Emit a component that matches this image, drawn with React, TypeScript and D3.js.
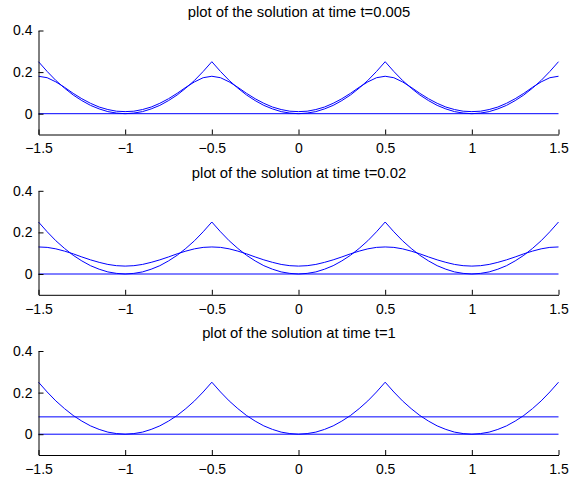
import React, { useEffect, useRef } from "react";
import * as d3 from "d3";

// sample positions along x
const xs = [
  -1.5, -1.45, -1.4, -1.35, -1.3, -1.25, -1.2, -1.15, -1.1, -1.05,
  -1.0, -0.95, -0.9, -0.85, -0.8, -0.75, -0.7, -0.65, -0.6, -0.55,
  -0.5, -0.45, -0.4, -0.35, -0.3, -0.25, -0.2, -0.15, -0.1, -0.05,
  0.0, 0.05, 0.1, 0.15, 0.2, 0.25, 0.3, 0.35, 0.4, 0.45,
  0.5, 0.55, 0.6, 0.65, 0.7, 0.75, 0.8, 0.85, 0.9, 0.95,
  1.0, 1.05, 1.1, 1.15, 1.2, 1.25, 1.3, 1.35, 1.4, 1.45,
  1.5,
];

// initial condition (drawn in every panel)
const initial = [
  0.25, 0.203, 0.16, 0.123, 0.09, 0.063, 0.04, 0.023, 0.01, 0.003,
  0, 0.003, 0.01, 0.023, 0.04, 0.063, 0.09, 0.123, 0.16, 0.203,
  0.25, 0.203, 0.16, 0.123, 0.09, 0.063, 0.04, 0.023, 0.01, 0.003,
  0, 0.003, 0.01, 0.023, 0.04, 0.063, 0.09, 0.123, 0.16, 0.203,
  0.25, 0.203, 0.16, 0.123, 0.09, 0.063, 0.04, 0.023, 0.01, 0.003,
  0, 0.003, 0.01, 0.023, 0.04, 0.063, 0.09, 0.123, 0.16, 0.203,
  0.25,
];

const solT005 = [
  0.18, 0.173, 0.153, 0.127, 0.098, 0.072, 0.05, 0.032, 0.02, 0.012,
  0.01, 0.012, 0.02, 0.032, 0.05, 0.072, 0.098, 0.127, 0.153, 0.173,
  0.18, 0.173, 0.153, 0.127, 0.098, 0.072, 0.05, 0.032, 0.02, 0.012,
  0.01, 0.012, 0.02, 0.032, 0.05, 0.072, 0.098, 0.127, 0.153, 0.173,
  0.18, 0.173, 0.153, 0.127, 0.098, 0.072, 0.05, 0.032, 0.02, 0.012,
  0.01, 0.012, 0.02, 0.032, 0.05, 0.072, 0.098, 0.127, 0.153, 0.173,
  0.18,
];

const solT002 = [
  0.13, 0.128, 0.121, 0.11, 0.097, 0.082, 0.068, 0.056, 0.046, 0.04,
  0.038, 0.04, 0.046, 0.056, 0.068, 0.082, 0.097, 0.11, 0.121, 0.128,
  0.13, 0.128, 0.121, 0.11, 0.097, 0.082, 0.068, 0.056, 0.046, 0.04,
  0.038, 0.04, 0.046, 0.056, 0.068, 0.082, 0.097, 0.11, 0.121, 0.128,
  0.13, 0.128, 0.121, 0.11, 0.097, 0.082, 0.068, 0.056, 0.046, 0.04,
  0.038, 0.04, 0.046, 0.056, 0.068, 0.082, 0.097, 0.11, 0.121, 0.128,
  0.13,
];

// t=1: flat at the mean value
const endX = [-1.5, 1.5];
const solT1 = [0.0833, 0.0833];
const zeroLine = [0, 0];

const titles = [
  "plot of the solution at time t=0.005",
  "plot of the solution at time t=0.02",
  "plot of the solution at time t=1",
];

const xTicks = [-1.5, -1, -0.5, 0, 0.5, 1, 1.5];
const xTickLabels = ["\u22121.5", "\u22121", "\u22120.5", "0", "0.5", "1", "1.5"];
const yTicks = [0, 0.2, 0.4];
const yTickLabels = ["0", "0.2", "0.4"];

const W = 571;
const H = 483;
const FONT = "'Liberation Sans', Arial, Helvetica, sans-serif";

export default function App() {
  const svgRef = useRef<SVGSVGElement>(null);

  useEffect(() => {
    const svg = d3.select(svgRef.current);
    svg.selectAll("*").remove();

    const left = 38.5;
    const right = 558.5;
    const tops = [30.5, 190.8, 351];
    const ph = 104;

    const xScale = d3.scaleLinear().domain([-1.5, 1.5]).range([left, right]);

    const solutions = [solT005, solT002, null];

    solutions.forEach((sol, i) => {
      const top = tops[i];
      const yScale = d3.scaleLinear().domain([-0.1, 0.4]).range([top + ph, top]);
      const g = svg.append("g");

      const lineGen = (ys: number[], xv: number[]) =>
        d3
          .line<number>()
          .x((_, j) => xScale(xv[j]))
          .y((d) => yScale(d))(ys);

      const addLine = (ys: number[], xv: number[]) =>
        g
          .append("path")
          .attr("d", lineGen(ys, xv))
          .attr("fill", "none")
          .attr("stroke", "#0000ff")
          .attr("stroke-width", 1);

      addLine(zeroLine, endX);
      addLine(initial, xs);
      if (sol) addLine(sol, xs);
      else addLine(solT1, endX);

      // axes (matlab style, ticks pointing in)
      const xAxis = d3
        .axisBottom(xScale)
        .tickValues(xTicks)
        .tickFormat((_, j) => xTickLabels[j])
        .tickSizeInner(-5)
        .tickSizeOuter(0)
        .tickPadding(9);
      const gx = g
        .append("g")
        .attr("transform", `translate(0,${top + ph})`)
        .call(xAxis);

      const yAxis = d3
        .axisLeft(yScale)
        .tickValues(yTicks)
        .tickFormat((_, j) => yTickLabels[j])
        .tickSizeInner(-5)
        .tickSizeOuter(0)
        .tickPadding(6);
      const gy = g
        .append("g")
        .attr("transform", `translate(${left},0)`)
        .call(yAxis);

      [gx, gy].forEach((a) => {
        a.select(".domain").attr("stroke", "#000");
        a.selectAll(".tick line").attr("stroke", "#000");
        a.selectAll("text")
          .attr("fill", "#000")
          .style("font-family", FONT)
          .style("font-size", "14px");
      });

      g.append("text")
        .attr("x", 299)
        .attr("y", top - 13.2)
        .attr("text-anchor", "middle")
        .style("font-family", FONT)
        .style("font-size", "14.8px")
        .attr("fill", "#000")
        .text(titles[i]);
    });
  }, []);

  return (
    <svg
      ref={svgRef}
      width={W}
      height={H}
      style={{ position: "absolute", left: 0, top: 0, background: "#fff" }}
    />
  );
}
